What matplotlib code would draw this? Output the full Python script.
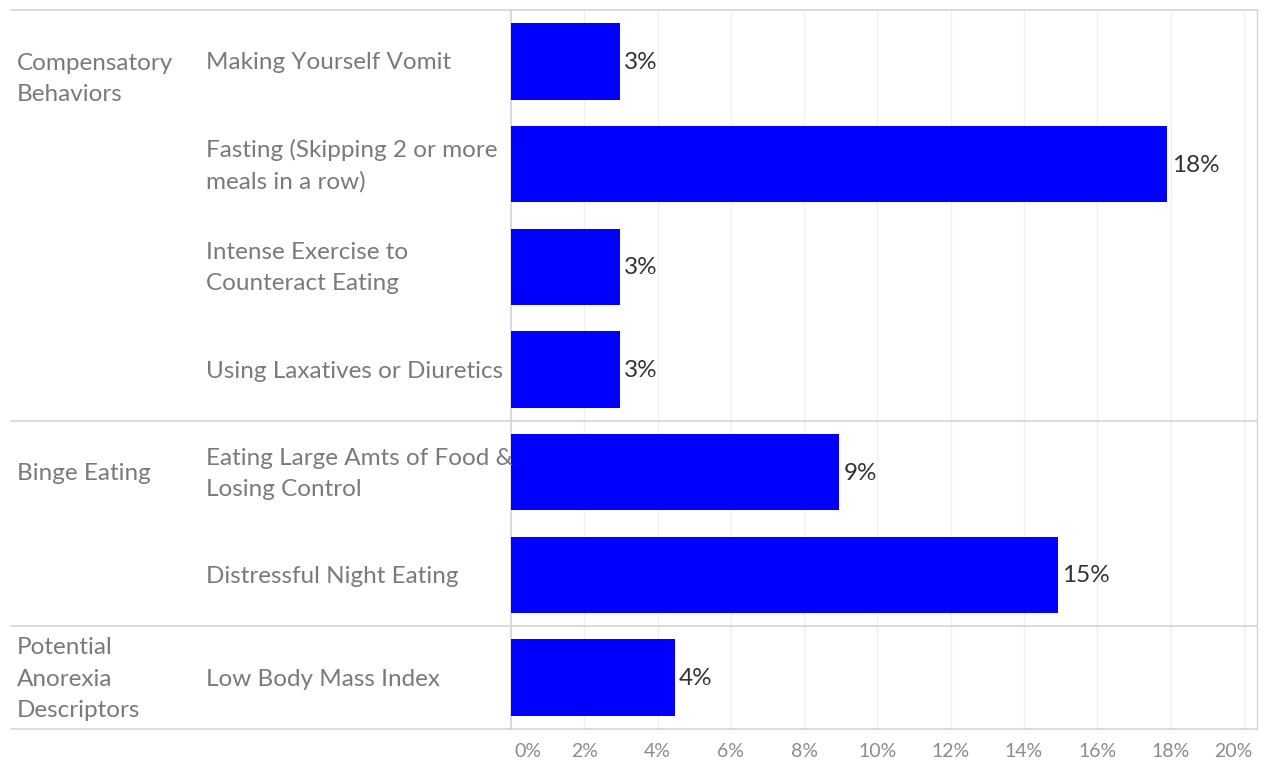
import matplotlib
matplotlib.use("Agg")
import matplotlib.pyplot as plt
from matplotlib.transforms import blended_transform_factory, ScaledTranslation
from matplotlib.ticker import FuncFormatter

# Survey items, grouped by behaviour type
groups = ["Compensatory\nBehaviors", "Binge Eating", "Potential\nAnorexia\nDescriptors"]
group_sizes = [4, 2, 1]
items = [
    "Making Yourself Vomit",
    "Fasting (Skipping 2 or more\nmeals in a row)",
    "Intense Exercise to\nCounteract Eating",
    "Using Laxatives or Diuretics",
    "Eating Large Amts of Food &\nLosing Control",
    "Distressful Night Eating",
    "Low Body Mass Index",
]
# Share of respondents (percent)
pct = [2.97, 17.91, 2.97, 2.97, 8.96, 14.93, 4.47]
x_ticks = [0, 2, 4, 6, 8, 10, 12, 14, 16, 18, 20]

FONT = "Lato"
BLUE = "#0000FF"
LABEL_GREY = "#7a7a7a"
TICK_GREY = "#8c8c8c"
VALUE_DARK = "#333333"
RULE = "#d4d4d4"
GRID = "#f0f0f0"

W, H = 1265, 761
fig = plt.figure(figsize=(W / 100, H / 100), dpi=100)

left_px, right_px, top_px, bottom_px = 511, 1257, 10, 729
ax = fig.add_axes([left_px / W, 1 - bottom_px / H,
                   (right_px - left_px) / W, (bottom_px - top_px) / H])

n = len(items)
ypos = list(range(n))
ax.barh(ypos, pct, height=0.745, color=BLUE, zorder=3)
ax.set_ylim(n - 0.5, -0.5)
ax.set_xlim(0, 20.36)

for y, v in zip(ypos, pct):
    ax.text(v + 0.12, y + 0.01, f"{v:.0f}%", va="center", ha="left",
            fontsize=17.5, color=VALUE_DARK, family=FONT, zorder=4)

# light vertical gridlines
ax.set_xticks(x_ticks)
ax.xaxis.set_major_formatter(FuncFormatter(lambda v, _: f"{v:.0f}%"))
ax.grid(axis="x", color=GRID, linewidth=1, zorder=0)
ax.set_axisbelow(True)
ax.tick_params(axis="x", length=0, pad=10, labelsize=14, labelcolor=TICK_GREY)
ticks = ax.xaxis.get_major_ticks()
for tk in ticks:
    tk.label1.set_family(FONT)
# keep the end labels inside the plot width
ticks[0].label1.set_horizontalalignment("left")
ticks[-1].label1.set_horizontalalignment("right")
fig.canvas.draw()
ticks = ax.xaxis.get_major_ticks()
ticks[0].label1.set_transform(ticks[0].label1.get_transform()
                              + ScaledTranslation(0.03, 0, fig.dpi_scale_trans))
ticks[-1].label1.set_transform(ticks[-1].label1.get_transform()
                               + ScaledTranslation(0.09, 0, fig.dpi_scale_trans))
ax.set_yticks([])
for side in ("top", "bottom", "right"):
    ax.spines[side].set_visible(False)
ax.spines["left"].set_color(RULE)
ax.spines["left"].set_linewidth(1.2)
ax.spines["right"].set_visible(True)
ax.spines["right"].set_color(RULE)
ax.spines["right"].set_linewidth(1)

# horizontal rules spanning the header columns and the plot
x0_fig = 11 / W
x1_fig = right_px / W
bounds = [-0.5]
acc = -0.5
for s in group_sizes:
    acc += s
    bounds.append(acc)
trans_rule = blended_transform_factory(fig.transFigure, ax.transData)
for b in bounds:
    ax.plot([x0_fig, x1_fig], [b, b], transform=trans_rule, color=RULE,
            linewidth=1.2, clip_on=False, zorder=5)

# row headers
trans_txt = blended_transform_factory(fig.transFigure, ax.transData)
for y, name in zip(ypos, items):
    t = fig.text(206 / W, 0, name, transform=trans_txt, va="center", ha="left",
                 fontsize=17.5, color=LABEL_GREY, family=FONT, linespacing=1.6)
    t.set_position((206 / W, y + 0.015))

# group headers sit on the first row of each group
line_step = 0.307
start = 0
for g, s in zip(groups, group_sizes):
    nlines = g.count("\n") + 1
    yc = start + 0.015 + (line_step / 2 if nlines == 2 else 0)
    t = fig.text(17 / W, 0, g, transform=trans_txt, va="center", ha="left",
                 fontsize=17.5, color=LABEL_GREY, family=FONT, linespacing=1.6)
    t.set_position((17 / W, yc))
    start += s

fig.savefig("out.png", dpi=100, facecolor="white")
